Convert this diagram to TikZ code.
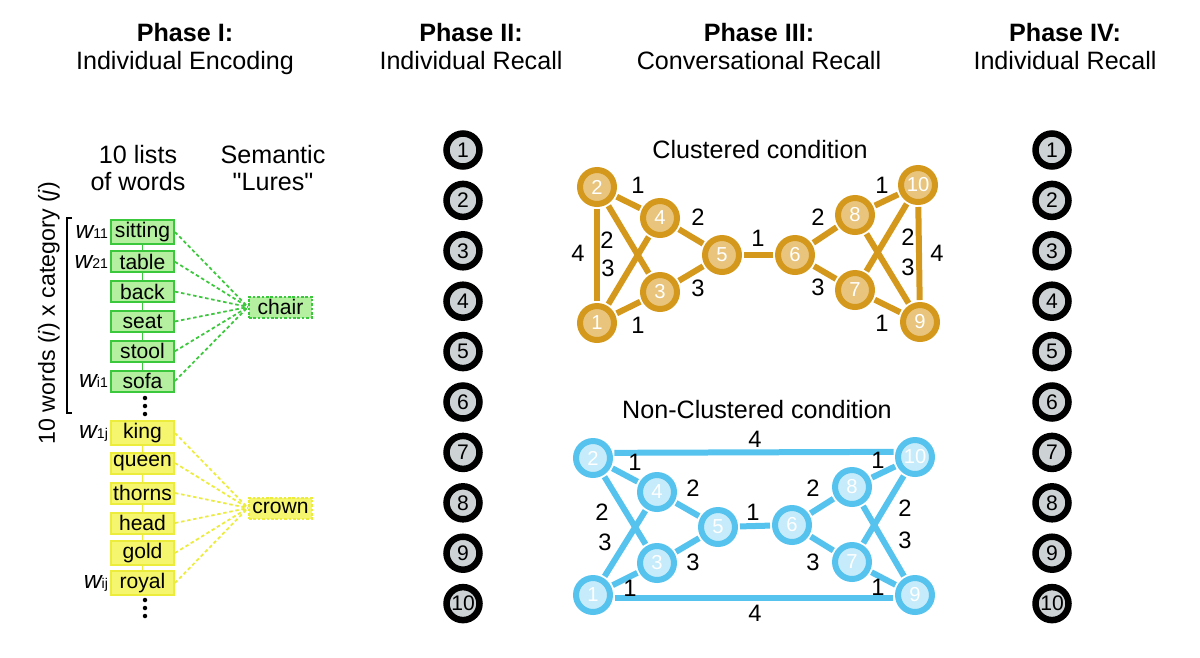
\documentclass[tikz,border=0pt]{standalone}
\usepackage{fontspec}
\setmainfont{Liberation Sans}[Ligatures=TeXOff]
\usepackage{tikz}
\usetikzlibrary{positioning}

\definecolor{goldring}{RGB}{212,153,28}
\definecolor{goldfill}{RGB}{232,196,124}
\definecolor{bluering}{RGB}{85,195,238}
\definecolor{bluefill}{RGB}{198,235,250}
\definecolor{grnfill}{RGB}{180,240,160}
\definecolor{grnline}{RGB}{60,200,60}
\definecolor{ylwfill}{RGB}{245,245,110}
\definecolor{ylwline}{RGB}{236,236,60}
\definecolor{recallfill}{RGB}{205,211,213}

\tikzset{
    head/.style={align=center, font=\fontsize{14.3}{16}\selectfont},
    recall/.style={shape=circle, draw=black, fill=recallfill, line width=0.13cm,
        minimum size=0.66cm, inner sep=0pt, font=\fontsize{12}{13}\selectfont},
    gword/.style={shape=rectangle, draw=grnline, fill=grnfill, line width=0.04cm,
        minimum width=1.26cm, minimum height=0.42cm, inner sep=1pt,
        font=\fontsize{12}{14}\selectfont},
    yword/.style={gword, draw=ylwline, fill=ylwfill},
    lure/.style={gword, dashed, dash pattern=on 1.5pt off 1pt},
    wlab/.style={inner sep=1pt},
    glink/.style={draw=grnline, line width=0.03cm},
    ylink/.style={draw=ylwline, line width=0.03cm},
    gdash/.style={draw=grnline, line width=0.035cm, dash pattern=on 2pt off 1.5pt},
    ydash/.style={draw=ylwline, line width=0.035cm, dash pattern=on 2pt off 1.5pt},
    cnode/.style={shape=circle, draw=goldring, fill=goldfill, line width=0.12cm,
        minimum size=0.68cm, inner sep=0pt, text=white, font=\fontsize{11.5}{12}\selectfont},
    nnode/.style={cnode, draw=bluering, fill=bluefill},
    cedge/.style={draw=goldring, line width=0.12cm, shorten <=0.04cm, shorten >=0.04cm},
    nedge/.style={cedge, draw=bluering},
    elab/.style={font=\fontsize{13.5}{14}\selectfont, inner sep=0pt}
}

\newcommand{\wsub}[1]{{\fontsize{14}{14}\selectfont\itshape w}{\fontsize{8}{8}\selectfont #1}}

\begin{document}
\begin{tikzpicture}[x=0.02cm, y=-0.02cm]
    \useasboundingbox (0,0) rectangle (1200,657);

    \node[head, anchor=north] (H1) at (185,17) {\textbf{Phase I:}\\Individual Encoding};
    \node[head, anchor=north] (H2) at (471,17) {\textbf{Phase II:}\\Individual Recall};
    \node[head, anchor=north] (H3) at (759,17) {\textbf{Phase III:}\\Conversational Recall};
    \node[head, anchor=north] (H4) at (1065,17) {\textbf{Phase IV:}\\Individual Recall};

    % phase I
    \node[head, font=\fontsize{14.3}{15.3}\selectfont] (Lists) at (138,168) {10 lists\\of words};
    \node[head, font=\fontsize{14.3}{15.3}\selectfont] (Lures) at (273,168) {Semantic\\"Lures"};
    \node[rotate=90, font=\fontsize{13.2}{15}\selectfont] (Dim) at (49,313) {10 words (\textit{i}) x category (\textit{j})};
    \draw[line width=0.025cm] (72,218) -- (67,218) -- (67,413) -- (72,413);

    \foreach \w [count=\k] in {sitting,table,back,seat,stool,sofa}
        \node[gword] (G\k) at (142.5, {232+29.8*(\k-1)}) {\w};
    \foreach \w [count=\k] in {king,queen,thorns,head,gold,royal}
        \node[yword] (Y\k) at (142.5, {433+30*(\k-1)}) {\w};
    \node[lure] (chair) at (280.5,307) {chair};
    \node[lure, draw=ylwline, fill=ylwfill] (crown) at (280.5,508) {crown};

    \draw[glink] (G1) -- (G2) -- (G3) -- (G4) -- (G5) -- (G6);
    \draw[ylink] (Y1) -- (Y2) -- (Y3) -- (Y4) -- (Y5) -- (Y6);
    \foreach \k in {1,...,6} {
        \draw[gdash] (G\k.east) -- (chair.west);
        \draw[ydash] (Y\k.east) -- (crown.west);
    }

    \node[wlab, left=0pt of G1] (W11) {\wsub{11}};
    \node[wlab, left=0pt of G2] (W21) {\wsub{21}};
    \node[wlab, left=0pt of G6] (Wi1) {\wsub{i1}};
    \node[wlab, left=0pt of Y1] (W1j) {\wsub{1j}};
    \node[wlab, left=0pt of Y6] (Wij) {\wsub{ij}};

    \foreach \d in {-8,0,8} {
        \fill (145, 406+\d) circle[radius=0.045cm];
        \fill (145, 608+\d) circle[radius=0.045cm];
    }

    % phase II and IV
    \foreach \k in {1,...,10} {
        \node[recall] (P\k) at (463, {150+50.4*(\k-1)}) {\k};
        \node[recall] (Q\k) at (1052, {150+50.4*(\k-1)}) {\k};
    }

    % phase III, clustered
    \node[head] (CT) at (760,150) {Clustered condition};
    \node[cnode] (C1) at (597,323) {1};
    \node[cnode] (C2) at (597,187) {2};
    \node[cnode] (C3) at (660,292) {3};
    \node[cnode] (C4) at (660,218) {4};
    \node[cnode] (C5) at (722,255) {5};
    \node[cnode] (C6) at (795,255) {6};
    \node[cnode] (C7) at (855,290) {7};
    \node[cnode] (C8) at (855,215) {8};
    \node[cnode] (C9) at (920,322) {9};
    \node[cnode] (C10) at (918,185) {10};
    \draw[cedge] (C2) to (C4);
    \draw[cedge] (C2) to (C3);
    \draw[cedge] (C1) to (C4);
    \draw[cedge] (C1) to (C2);
    \draw[cedge] (C1) to (C3);
    \draw[cedge] (C4) to (C5);
    \draw[cedge] (C3) to (C5);
    \draw[cedge] (C5) to (C6);
    \draw[cedge] (C6) to (C8);
    \draw[cedge] (C6) to (C7);
    \draw[cedge] (C8) to (C10);
    \draw[cedge] (C10) to (C7);
    \draw[cedge] (C8) to (C9);
    \draw[cedge] (C10) to (C9);
    \draw[cedge] (C7) to (C9);
    \node[elab] (c24) at (638,185) {1};
    \node[elab] (c23) at (607,240) {2};
    \node[elab] (c14) at (608,268) {3};
    \node[elab] (c12) at (578,253) {4};
    \node[elab] (c13) at (638,325) {1};
    \node[elab] (c45) at (698,217) {2};
    \node[elab] (c35) at (698,288) {3};
    \node[elab] (c56) at (758,238) {1};
    \node[elab] (c68) at (818,217) {2};
    \node[elab] (c67) at (818,287) {3};
    \node[elab] (c810) at (882,185) {1};
    \node[elab] (c107) at (908,237) {2};
    \node[elab] (c89) at (908,267) {3};
    \node[elab] (c109) at (937,253) {4};
    \node[elab] (c79) at (882,323) {1};

    % phase III, non-clustered
    \node[head] (NT) at (757,410) {Non-Clustered condition};
    \node[nnode] (N1) at (593,595) {1};
    \node[nnode] (N2) at (593,458) {2};
    \node[nnode] (N3) at (657,563) {3};
    \node[nnode] (N4) at (657,492) {4};
    \node[nnode] (N5) at (718,527) {5};
    \node[nnode] (N6) at (792,525) {6};
    \node[nnode] (N7) at (852,562) {7};
    \node[nnode] (N8) at (852,487) {8};
    \node[nnode] (N9) at (915,595) {9};
    \node[nnode] (N10) at (915,457) {10};
    \draw[nedge] (N2.15) to (N10.165);
    \draw[nedge] (N1.-8) to (N9.-172);
    \draw[nedge] (N2) to (N4);
    \draw[nedge] (N2) to (N3);
    \draw[nedge] (N1) to (N4);
    \draw[nedge] (N1) to (N3);
    \draw[nedge] (N4) to (N5);
    \draw[nedge] (N3) to (N5);
    \draw[nedge] (N5) to (N6);
    \draw[nedge] (N6) to (N8);
    \draw[nedge] (N6) to (N7);
    \draw[nedge] (N8) to (N10);
    \draw[nedge] (N10) to (N7);
    \draw[nedge] (N8) to (N9);
    \draw[nedge] (N7) to (N9);
    \node[elab] (n210) at (755,439) {4};
    \node[elab] (n19) at (755,613) {4};
    \node[elab] (n24) at (635,462) {1};
    \node[elab] (n23) at (602,512) {2};
    \node[elab] (n14) at (605,542) {3};
    \node[elab] (n13) at (630,588) {1};
    \node[elab] (n45) at (693,488) {2};
    \node[elab] (n35) at (693,562) {3};
    \node[elab] (n56) at (753,512) {1};
    \node[elab] (n68) at (813,488) {2};
    \node[elab] (n67) at (813,562) {3};
    \node[elab] (n810) at (878,460) {1};
    \node[elab] (n107) at (905,508) {2};
    \node[elab] (n89) at (905,540) {3};
    \node[elab] (n79) at (878,587) {1};
\end{tikzpicture}
\end{document}
